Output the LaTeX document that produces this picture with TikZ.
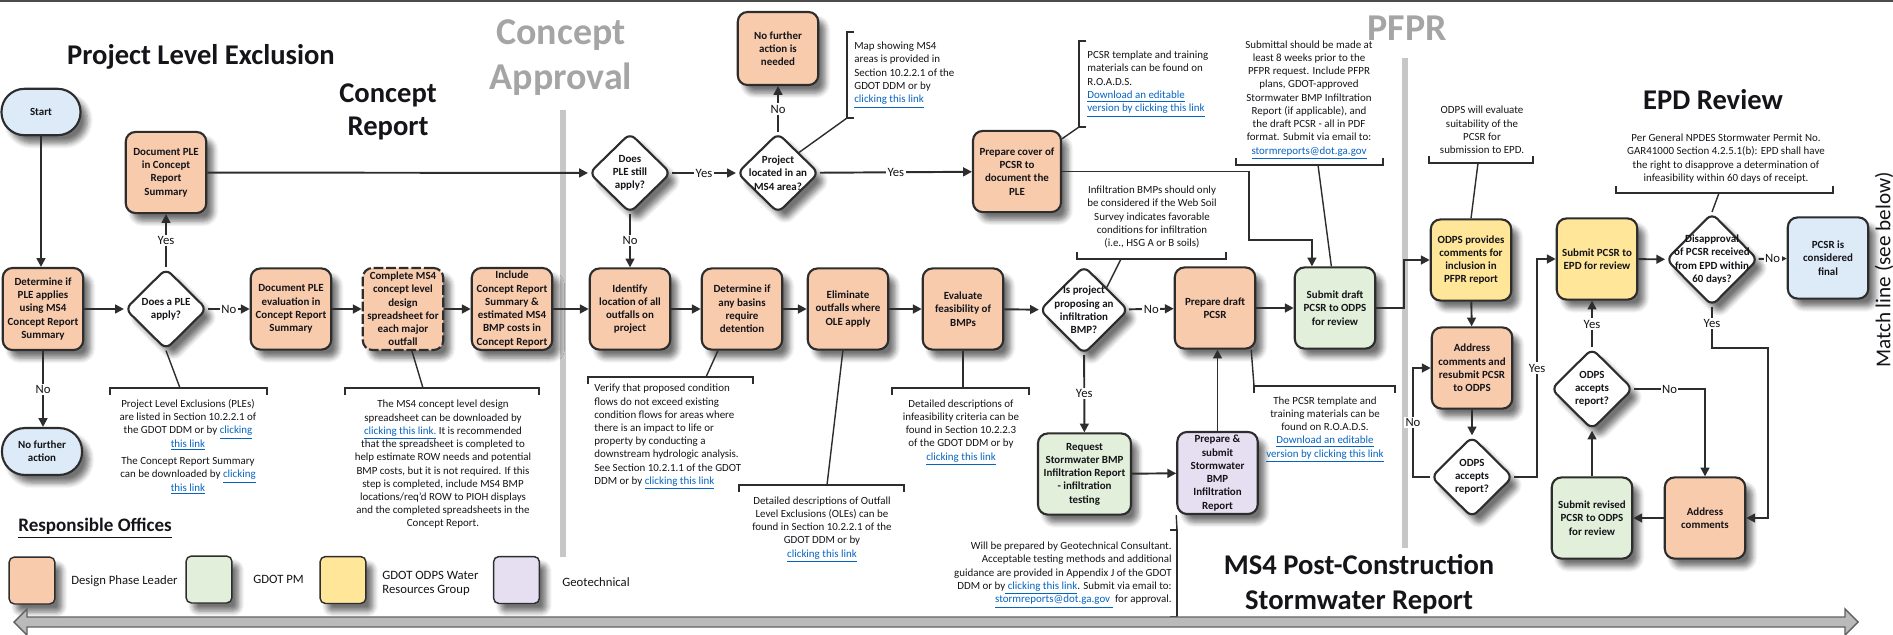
\documentclass[tikz,border=0pt]{standalone}
\usepackage{fontspec}
\setmainfont{Carlito}
\usetikzlibrary{arrows.meta,shapes.geometric,shadows.blur}

\definecolor{dplc}{RGB}{248,203,173}
\definecolor{gpmc}{RGB}{226,239,218}
\definecolor{odpc}{RGB}{255,230,153}
\definecolor{geoc}{RGB}{230,223,241}
\definecolor{termc}{RGB}{221,234,247}
\definecolor{linkblue}{RGB}{5,99,193}
\definecolor{phasegray}{RGB}{165,165,165}
\definecolor{edge}{RGB}{45,45,45}
\definecolor{ink}{RGB}{20,20,25}

\newcommand{\lnk}[1]{\textcolor{linkblue}{\underline{#1}}}
\newcommand{\boxfont}{\fontsize{6.2}{7.5}\selectfont\bfseries}
\newcommand{\notefont}{\fontsize{6.2}{7.5}\selectfont}
\newcommand{\lblfont}{\fontsize{7.2}{8}\selectfont}
\newcommand{\legfont}{\fontsize{7.2}{7.9}\selectfont}
\newcommand{\ttlfont}{\fontsize{16.2}{18.7}\selectfont\bfseries}
\newcommand{\phasefont}{\fontsize{21.5}{25.5}\selectfont\bfseries}

\begin{document}
\begin{tikzpicture}[x=0.5669pt, y=-0.5669pt,
  softshadow/.style={blur shadow={shadow xshift=4pt, shadow yshift=-4.6pt,
      shadow blur radius=3pt, shadow blur steps=6, shadow opacity=55}},
  box/.style={softshadow, draw=edge, line width=1.2pt, rounded corners=5.5pt,
      minimum width=45.6pt, minimum height=46pt, inner sep=0.5pt,
      align=center, font=\boxfont, text=ink},
  term/.style={box, fill=termc, minimum width=44.8pt, minimum height=26.3pt,
      rounded corners=13pt},
  dia/.style={softshadow, shape=diamond, draw=edge, line width=1.2pt,
      rounded corners=4pt, fill=white, inner sep=0pt,
      minimum width=46.5pt, minimum height=46pt},
  dtext/.style={font=\boxfont, align=center, text=ink, inner sep=0pt},
  flow/.style={draw=edge, line width=1.1pt, -{Triangle[length=5pt,width=5pt]}},
  lab/.style={fill=white, inner sep=0.8pt, font=\lblfont, text=ink},
  ln/.style={draw=edge, line width=0.8pt},
  note/.style={font=\notefont, text=ink, align=center, inner sep=0pt},
  phaseline/.style={draw=black!22, line width=3.4pt},
  legsw/.style={softshadow, draw=edge, line width=0.8pt, rounded corners=3pt,
      minimum width=26pt, minimum height=26.6pt, inner sep=0pt},
  legtext/.style={font=\legfont, text=ink, anchor=west, align=left, inner sep=0pt}
]
\useasboundingbox (0,0) rectangle (1893,634);

% frame line and phase separators
\draw[black!70, line width=1.2pt] (0,1) -- (1893,1);
\draw[phaseline] (563,110) -- (563,557);
\draw[phaseline] (1405,58) -- (1405,548);

% section titles
\node[font=\ttlfont, text=ink] (tple) at (201,57) {Project Level Exclusion};
\node[font=\ttlfont, text=ink, align=center] (tcr) at (388,111.5) {Concept\\Report};
\node[font=\phasefont, text=phasegray, align=center] (tca) at (561,57.5) {Concept\\Approval};
\node[font=\phasefont, text=phasegray] (tpf) at (1407,28) {PFPR};
\node[font=\ttlfont, text=ink] (tepd) at (1713,100) {EPD Review};
\node[font=\fontsize{16.2}{19.8}\selectfont\bfseries, text=ink, align=center] (tms4)
  at (1359,584.5) {MS4 Post-Construction\\Stormwater Report};
\node[rotate=90, font=\fontsize{12}{14}\selectfont, text=ink] (match) at (1884,270) {Match line (see below)};

% ---- Project level exclusion / concept report
\node[term] (start) at (41,112) {Start};
\node[box, fill=dplc, minimum height=46.5pt] (det) at (43,309)
  {Determine if\\PLE applies\\using MS4\\Concept Report\\Summary};
\node[dia, label={[dtext]center:{Does a PLE\\apply?}}] (d1) at (166,309) {};
\node[box, fill=dplc] (docple) at (166,172.5) {Document PLE\\in Concept\\Report\\Summary};
\node[box, fill=dplc] (docev) at (291,309) {Document PLE\\evaluation in\\Concept Report\\Summary};
\node[box, fill=dplc, dash pattern=on 5.5pt off 1.6pt, minimum height=46.5pt] (sheet) at (403,309)
  {Complete MS4\\concept level\\design\\spreadsheet for\\each major\\outfall};
\node[box, fill=dplc, minimum height=46.5pt] (incl) at (512,309)
  {Include\\Concept Report\\Summary \&\\estimated MS4\\BMP costs in\\Concept Report};
\node[term, minimum width=45.4pt, minimum height=26.6pt] (nfa) at (42,451.5) {No further\\action};

% ---- Concept approval
\node[dia, minimum height=45.4pt, label={[dtext]center:{Does\\PLE still\\apply?}}] (d2) at (630,173) {};
\node[dia, minimum height=45.4pt, label={[dtext]center:{Project\\located in an\\MS4 area?}}] (d3) at (778,173) {};
\node[box, fill=dplc, minimum height=41.4pt] (nfa2) at (778,48.5) {No further\\action is\\needed};
\node[box, fill=dplc, minimum width=49.9pt] (cover) at (1017,171.5) {Prepare cover of\\PCSR to\\document the\\PLE};
\node[box, fill=dplc] (ident) at (630,309) {Identify\\location of all\\outfalls on\\project};
\node[box, fill=dplc] (basin) at (742,309) {Determine if\\any basins\\require\\detention};
\node[box, fill=dplc] (elim) at (848,309) {Eliminate\\outfalls where\\OLE apply};
\node[box, fill=dplc] (evalb) at (963,309) {Evaluate\\feasibility of\\BMPs};
\node[dia, minimum width=50.4pt, minimum height=50pt,
  label={[dtext]center:{Is project\\proposing an\\infiltration\\BMP?}}] (d4) at (1084,310) {};
\node[box, fill=dplc] (draft) at (1215,308) {Prepare draft\\PCSR};
\node[box, fill=gpmc] (subm) at (1335,308) {Submit draft\\PCSR to ODPS\\for review};
\node[box, fill=gpmc, minimum width=52.7pt] (req) at (1084.5,474)
  {Request\\Stormwater BMP\\Infiltration Report\\- infiltration\\testing};
\node[box, fill=geoc, minimum height=46.5pt] (geo) at (1217.5,473)
  {Prepare \&\\submit\\Stormwater\\BMP\\Infiltration\\Report};

% ---- PFPR / EPD review
\node[box, fill=odpc] (odps) at (1471,260) {ODPS provides\\comments for\\inclusion in\\PFPR report};
\node[box, fill=dplc] (addr1) at (1472,368) {Address\\comments and\\resubmit PCSR\\to ODPS};
\node[dia, label={[dtext]center:{ODPS\\accepts\\report?}}] (d5) at (1472,477) {};
\node[box, fill=odpc] (epd) at (1597,259) {Submit PCSR to\\EPD for review};
\node[dia, minimum width=52.2pt, minimum height=52.7pt,
  label={[dtext]center:{Disapproval\\of PCSR received\\from EPD within\\60 days?}}] (d6) at (1712,259.5) {};
\node[box, fill=termc] (final) at (1828,258) {PCSR is\\considered\\final};
\node[dia, label={[dtext]center:{ODPS\\accepts\\report?}}] (d7) at (1592,389) {};
\node[box, fill=gpmc] (revs) at (1592,518) {Submit revised\\PCSR to ODPS\\for review};
\node[box, fill=dplc] (addr2) at (1705,518) {Address\\comments};

% ---- flow connectors
\draw[flow] (start.south) -- (start.south |- det.north);
\draw[flow] (det) -- (d1);
\draw[flow] (d1) -- node[lab]{Yes} (docple);
\draw[flow] (d1) -- node[lab]{No} (docev);
\draw[flow] (docev) -- (sheet);
\draw[flow] (sheet) -- (incl);
\draw[flow] (incl) -- (ident);
\draw[flow] (det.south) -- node[lab]{No} (det.south |- nfa.north);
\draw[flow] (docple) -- (d2);
\draw[flow] (d2) -- node[lab]{Yes} (d3);
\draw[flow] (d3) -- node[lab]{No} (nfa2);
\draw[flow] (d3) -- node[lab]{Yes} (cover);
\draw[flow] (d2) -- node[lab]{No} (ident);
\draw[flow] (ident) -- (basin);
\draw[flow] (basin) -- (elim);
\draw[flow] (elim) -- (evalb);
\draw[flow] (evalb) -- (d4);
\draw[flow] (d4) -- node[lab]{No} (draft);
\draw[flow] (draft) -- (subm);
\draw[flow] (d4) -- node[lab]{Yes} (req);
\draw[flow] (req) -- (geo);
\draw[flow] (geo.north) -- (geo.north |- draft.south);
\coordinate (c1) at (1249,240);
\draw[flow] (cover.east) -| (c1) -| (subm.119);
\draw[flow] (subm.east) -- ++(28,0) |- (odps.west);
\draw[flow] (odps) -- (addr1);
\draw[flow] (addr1) -- (d5);
\draw[flow] (d5.west) -- ++(-17,0) |- node[lab,pos=0.25]{No} (addr1.west);
\draw[flow] (d5.east) -- ++(23,0) |- node[lab,pos=0.25]{Yes} (epd.west);
\draw[flow] (epd) -- (d6);
\draw[flow] (d6) -- node[lab]{No} (final);
\coordinate (c6) at (1768,348);
\draw[flow] (d6.south) -- node[lab,pos=0.4]{Yes} (d6.south |- c6) -- (c6) |- (addr2.east);
\draw[flow] (d7.north) -- node[lab]{Yes} (d7.north |- epd.south);
\draw[flow] (d7.east) -| node[lab,pos=0.25]{No} (addr2.north);
\draw[flow] (addr2) -- (revs);
\draw[flow] (revs) -- (d7);

% ---- annotation brackets and callout lines
\coordinate (kple) at (180,388);
\draw[ln] (110,395) -- (110,388) -- (267,388) -- (267,395);
\draw[ln] (d1.south) -- (kple);
\coordinate (ksheet) at (423,388);
\draw[ln] (345,395) -- (345,388) -- (539,388) -- (539,395);
\draw[ln] (sheet.-78) -- (ksheet);
\coordinate (kbas) at (706,377);
\draw[ln] (588,384) -- (588,377) -- (753,377) -- (753,384);
\draw[ln] (basin.-120) -- (kbas);
\coordinate (kole) at (827,485);
\draw[ln] (739,492) -- (739,485) -- (904,485) -- (904,492);
\draw[ln] (elim.-97) -- (kole);
\coordinate (kbmp) at (963,388);
\draw[ln] (892,395) -- (892,388) -- (1029,388) -- (1029,395);
\draw[ln] (evalb.south) -- (kbmp);
\coordinate (kmap) at (847,118);
\draw[ln] (854,32) -- (847,32) -- (847,118) -- (854,118);
\draw[ln] (d3.north east) -- (kmap);
\coordinate (ktpl) at (1079,127);
\draw[ln] (1086,41) -- (1079,41) -- (1079,127) -- (1086,127);
\draw[ln] (cover.36) -- (ktpl);
\coordinate (ksub) at (1318,165);
\draw[ln] (1236,158) -- (1236,165) -- (1383,165) -- (1383,158);
\draw[ln] (subm.95) -- (ksub);
\coordinate (kinf) at (1121,259);
\draw[ln] (1077,252) -- (1077,259) -- (1226,259) -- (1226,252);
\draw[ln] (d4.north east) -- (kinf);
\coordinate (ktpl2) at (1254,386);
\draw[ln] (1254,393) -- (1254,386) -- (1395,386) -- (1395,393);
\draw[ln] (draft.-49) -- (ktpl2);
\coordinate (kgeo) at (1177,530);
\draw[ln] (1170,530) -- (1177,530) -- (1177,617) -- (1170,617);
\draw[ln] (geo.south west) -- (kgeo);
\coordinate (kodp) at (1478,163);
\draw[ln] (1429,156) -- (1429,163) -- (1533,163) -- (1533,156);
\draw[ln] (odps.north) -- (kodp);
\coordinate (kepd) at (1719,193);
\draw[ln] (1616,186) -- (1616,193) -- (1833,193) -- (1833,186);
\draw[ln] (d6.north) -- (kepd);

% ---- annotation texts
\node[note] (nple) at (188,447) {Project Level Exclusions (PLEs)\\are listed in Section 10.2.2.1 of\\the GDOT DDM or by \lnk{clicking}\\\lnk{this link}\\[2.5pt]The Concept Report Summary\\can be downloaded by \lnk{clicking}\\\lnk{this link}};
\node[note] (nsheet) at (443,464.5) {The MS4 concept level design\\spreadsheet can be downloaded by\\\lnk{clicking this link.}  It is recommended\\that the spreadsheet is completed to\\help estimate ROW needs and potential\\BMP costs, but it is not required. If this\\step is completed, include MS4 BMP\\locations/req'd ROW to PIOH displays\\and the completed spreadsheets in the\\Concept Report.};
\node[note, align=left, anchor=west] (nbas) at (594,437) {Verify that proposed condition\\flows do not exceed existing\\condition flows for areas where\\there is an impact to life or\\property by conducting a\\downstream hydrologic analysis.\\See Section 10.2.1.1 of the GDOT\\DDM or by \lnk{clicking this link}};
\node[note] (nole) at (822,529.5) {Detailed descriptions of Outfall\\Level Exclusions (OLEs) can be\\found in Section 10.2.2.1 of the\\GDOT DDM or by\\\lnk{clicking this link}};
\node[note] (nbmp) at (961,432.5) {Detailed descriptions of\\infeasibility criteria can be\\found in Section 10.2.2.3\\of the GDOT DDM or by\\\lnk{clicking this link}};
\node[note, align=left, anchor=west] (nmap) at (854,75) {Map showing MS4\\areas is provided in\\Section 10.2.2.1 of the\\GDOT DDM or by\\\lnk{clicking this link}};
\node[note, align=left, anchor=west] (ntpl) at (1087,84) {PCSR template and training\\materials can be found on\\R.O.A.D.S.\\\lnk{Download an editable}\\\lnk{version by clicking this link}};
\node[note] (nsub) at (1309,100) {Submittal should be made at\\least 8 weeks prior to the\\PFPR request. Include PFPR\\plans, GDOT-approved\\Stormwater BMP Infiltration\\Report (if applicable), and\\the draft PCSR  - all in PDF\\format.  Submit via email to:\\\lnk{stormreports@dot.ga.gov}};
\node[note] (ninf) at (1152,217) {Infiltration BMPs should only\\be considered if the Web Soil\\Survey indicates favorable\\conditions for infiltration\\(i.e., HSG A or B soils)};
\node[note] (ntpl2) at (1325,429.5) {The PCSR template and\\training materials can be\\found on R.O.A.D.S.\\\lnk{Download an editable}\\\lnk{version by clicking this link}};
\node[note, align=right, anchor=east] (ngeo) at (1172,575) {Will be prepared by Geotechnical Consultant.\\Acceptable testing methods and additional\\guidance are provided in Appendix J of the GDOT\\DDM or by\lnk{ clicking this link}. Submit via email to:\\\lnk{stormreports@dot.ga.gov }~for approval.};
\node[note] (nodp) at (1482,130) {ODPS will evaluate\\suitability of the\\PCSR for\\submission to EPD.};
\node[note] (nepd) at (1726,158.5) {Per General NPDES Stormwater Permit No.\\GAR41000 Section 4.2.5.1(b): EPD shall have\\the right to disapprove a determination of\\infeasibility within 60 days of receipt.};

% ---- legend
\node[font=\fontsize{10.8}{12}\selectfont\bfseries, text=ink, anchor=west, inner sep=0pt] (resp) at (18,528) {\underline{Responsible Offices}};
\node[legsw, fill=dplc] (lg1) at (32,580.5) {};
\node[legtext] (lg1t) at (71,581) {Design Phase Leader};
\node[legsw, fill=gpmc] (lg2) at (209,579.5) {};
\node[legtext] (lg2t) at (253,579) {GDOT PM};
\node[legsw, fill=odpc] (lg3) at (343,580) {};
\node[legtext] (lg3t) at (382,583) {GDOT ODPS Water\\Resources Group};
\node[legsw, fill=geoc] (lg4) at (516.5,580) {};
\node[legtext] (lg4t) at (562,582) {Geotechnical};

% ---- timeline arrow along the bottom
\draw[draw=black!62, fill=black!27, line width=0.8pt]
  (14,622) -- (27,609) -- (27,617) -- (1845,617) -- (1845,609) -- (1858,622)
  -- (1845,635) -- (1845,627) -- (27,627) -- (27,635) -- cycle;
\end{tikzpicture}
\end{document}
